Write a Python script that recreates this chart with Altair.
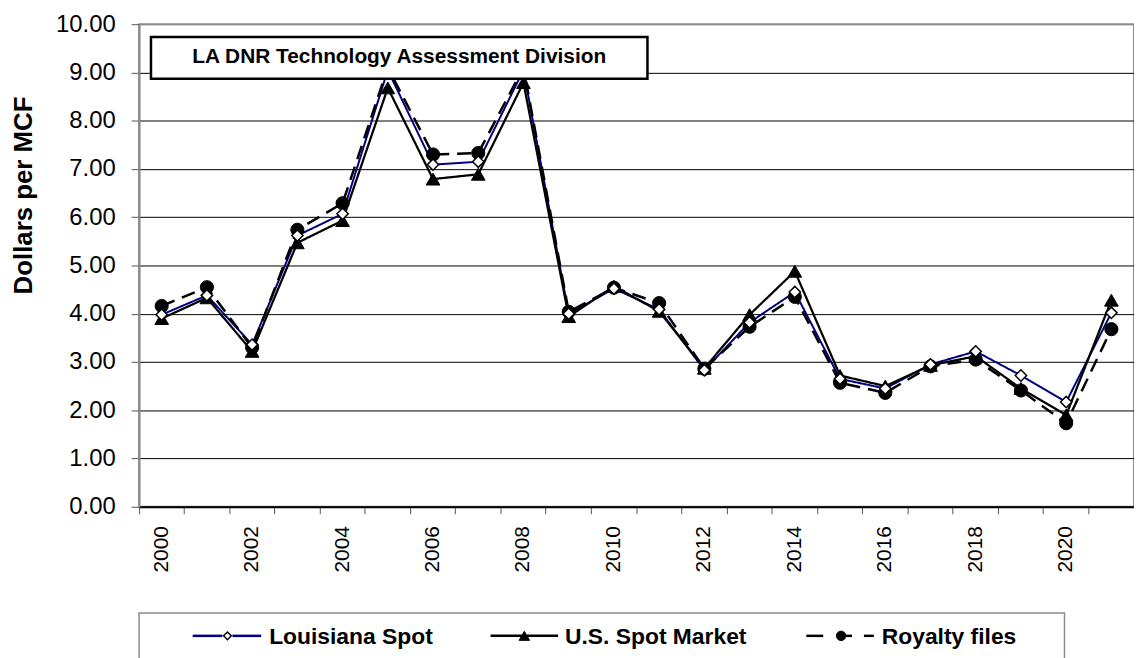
import altair as alt
import pandas as pd

years = ["2000", "2001", "2002", "2003", "2004", "2005", "2006", "2007", "2008", "2009", "2010",
         "2011", "2012", "2013", "2014", "2015", "2016", "2017", "2018", "2019", "2020", "2021"]
louisiana_spot = [3.98, 4.38, 3.36, 5.62, 6.07, 9.05, 7.09, 7.15, 9.05, 4.00, 4.52,
                  4.09, 2.83, 3.82, 4.45, 2.65, 2.45, 2.95, 3.22, 2.72, 2.17, 4.02]
us_spot_market = [3.90, 4.33, 3.22, 5.47, 5.93, 8.68, 6.79, 6.89, 8.79, 3.94, 4.57,
                  4.05, 2.87, 3.98, 4.88, 2.72, 2.50, 2.93, 3.12, 2.45, 1.90, 4.28]
royalty_files = [4.16, 4.55, 3.30, 5.74, 6.29, 9.10, 7.30, 7.33, 9.10, 4.04, 4.54,
                 4.22, 2.86, 3.73, 4.35, 2.57, 2.36, 2.91, 3.05, 2.41, 1.73, 3.68]
series_names = ["Louisiana Spot", "U.S. Spot Market", "Royalty files"]
y_ticks = [0, 1, 2, 3, 4, 5, 6, 7, 8, 9, 10]
note_text = "LA DNR Technology Assessment Division"
y_title = "Dollars per MCF"

rows = []
for name, vals in zip(series_names, [louisiana_spot, us_spot_market, royalty_files]):
    for yr, v in zip(years, vals):
        rows.append({"year": yr, "value": v, "series": name})
df = pd.DataFrame(rows)

FONT = "Liberation Sans, Arial, Helvetica, sans-serif"
NAVY = "#000080"

x_enc = alt.X(
    "year:O",
    sort=years,
    bandPosition=0.5,
    scale=alt.Scale(type="band", paddingInner=0, paddingOuter=0),
    axis=alt.Axis(
        title=None, bandPosition=0, labelAngle=270, labelFontSize=21, labelFont=FONT,
        labelColor="black", labelPadding=12, tickSize=7, tickColor="#555555",
        domainColor="black", domainWidth=2,
        labelExpr="toNumber(datum.value) % 2 == 0 ? datum.label : ''",
        grid=False,
    ),
)
y_enc = alt.Y(
    "value:Q",
    scale=alt.Scale(domain=[0, 10], nice=False, zero=True),
    axis=alt.Axis(
        values=y_ticks, format=".2f", title=y_title, titleFontSize=26, titleFont=FONT,
        titleFontWeight="bold", titleColor="black", titleBaseline="middle",
        titleX=-116, titleY=172, titleAngle=270,
        labelFontSize=24, labelFont=FONT, labelColor="black", labelPadding=16,
        tickSize=8, tickColor="#555555", domainColor="#8c8c8c", domainWidth=2,
        grid=True, gridWidth=1,
        gridColor={"condition": {"test": "datum.value >= 10", "value": "#8c8c8c"}, "value": "black"},
    ),
)

base = alt.Chart(df)

lines = base.mark_line().encode(
    x=x_enc,
    y=y_enc,
    color=alt.Color("series:N", scale=alt.Scale(domain=series_names, range=[NAVY, "black", "black"]), legend=None),
    strokeDash=alt.StrokeDash("series:N", scale=alt.Scale(domain=series_names, range=[[1, 0], [1, 0], [14, 8]]), legend=None),
    strokeWidth=alt.StrokeWidth("series:N", scale=alt.Scale(domain=series_names, range=[2, 2.5, 2.5]), legend=None),
)

tri = base.transform_filter(alt.datum.series == "U.S. Spot Market").mark_point(
    shape="triangle-up", size=190, filled=True, fill="black", stroke="black", strokeWidth=1, opacity=1
).encode(x=x_enc, y=y_enc)
circ = base.transform_filter(alt.datum.series == "Royalty files").mark_point(
    shape="circle", size=175, filled=True, fill="black", stroke="black", strokeWidth=1, opacity=1
).encode(x=x_enc, y=y_enc)
diam = base.transform_filter(alt.datum.series == "Louisiana Spot").mark_point(
    shape="diamond", size=130, filled=False, fill="white", stroke="black", strokeWidth=1.5, opacity=1
).encode(x=x_enc, y=y_enc)

# ---- annotation box ----
note_df = pd.DataFrame({"t": [note_text]})
note_box = alt.Chart(note_df).mark_rect(fill="white", stroke="black", strokeWidth=2.5).encode(
    x=alt.value(12), x2=alt.value(512), y=alt.value(13), y2=alt.value(55)
)
note_label = alt.Chart(note_df).mark_text(
    fontSize=21, fontWeight="bold", font=FONT, align="center", baseline="alphabetic", color="black"
).encode(x=alt.value(262), y=alt.value(39), text="t:N")

# ---- legend (drawn below the plot) ----
one = pd.DataFrame({"k": [0]})
LEG_Y = 616


def seg(x1, x2, color, width):
    return alt.Chart(one).mark_rule(color=color, strokeWidth=width).encode(
        x=alt.value(x1), x2=alt.value(x2), y=alt.value(LEG_Y), y2=alt.value(LEG_Y)
    )


def sym(x, shape, size, fill, stroke, sw):
    return alt.Chart(one).mark_point(
        shape=shape, size=size, filled=True, fill=fill, stroke=stroke, strokeWidth=sw, opacity=1
    ).encode(x=alt.value(x), y=alt.value(LEG_Y))


def lab(x, text):
    return alt.Chart(pd.DataFrame({"t": [text]})).mark_text(
        fontSize=23, fontWeight="bold", font=FONT, align="left", baseline="alphabetic", color="black"
    ).encode(x=alt.value(x), y=alt.value(LEG_Y + 8), text="t:N")


legend_box = alt.Chart(one).mark_rect(
    fill="white", stroke="#8c8c8c", strokeWidth=1.5
).encode(x=alt.value(0), x2=alt.value(932), y=alt.value(593), y2=alt.value(720))

legend_parts = [
    legend_box,
    seg(54, 84, NAVY, 2.5), seg(94, 123, NAVY, 2.5),
    sym(89, "diamond", 60, "white", "black", 1.5),
    lab(131, series_names[0]),
    seg(354, 422, "black", 2.5),
    sym(388, "triangle-up", 110, "black", "black", 1),
    lab(429, series_names[1]),
    seg(672, 689, "black", 2.5), seg(706, 718, "black", 2.5), seg(730, 740, "black", 2.5),
    sym(707, "circle", 90, "black", "black", 1),
    lab(748, series_names[2]),
]

chart = alt.layer(
    lines, tri, circ, diam, note_box, note_label, *legend_parts
).properties(
    width=1002,
    height=486,
    autosize=alt.AutoSizeParams(type="none"),
    padding={"left": 132, "top": 14, "right": 0, "bottom": 150},
    background="white",
).configure_view(stroke="#8c8c8c", strokeWidth=2)

chart.save("out.html", embed_options={"renderer": "svg", "actions": False})
